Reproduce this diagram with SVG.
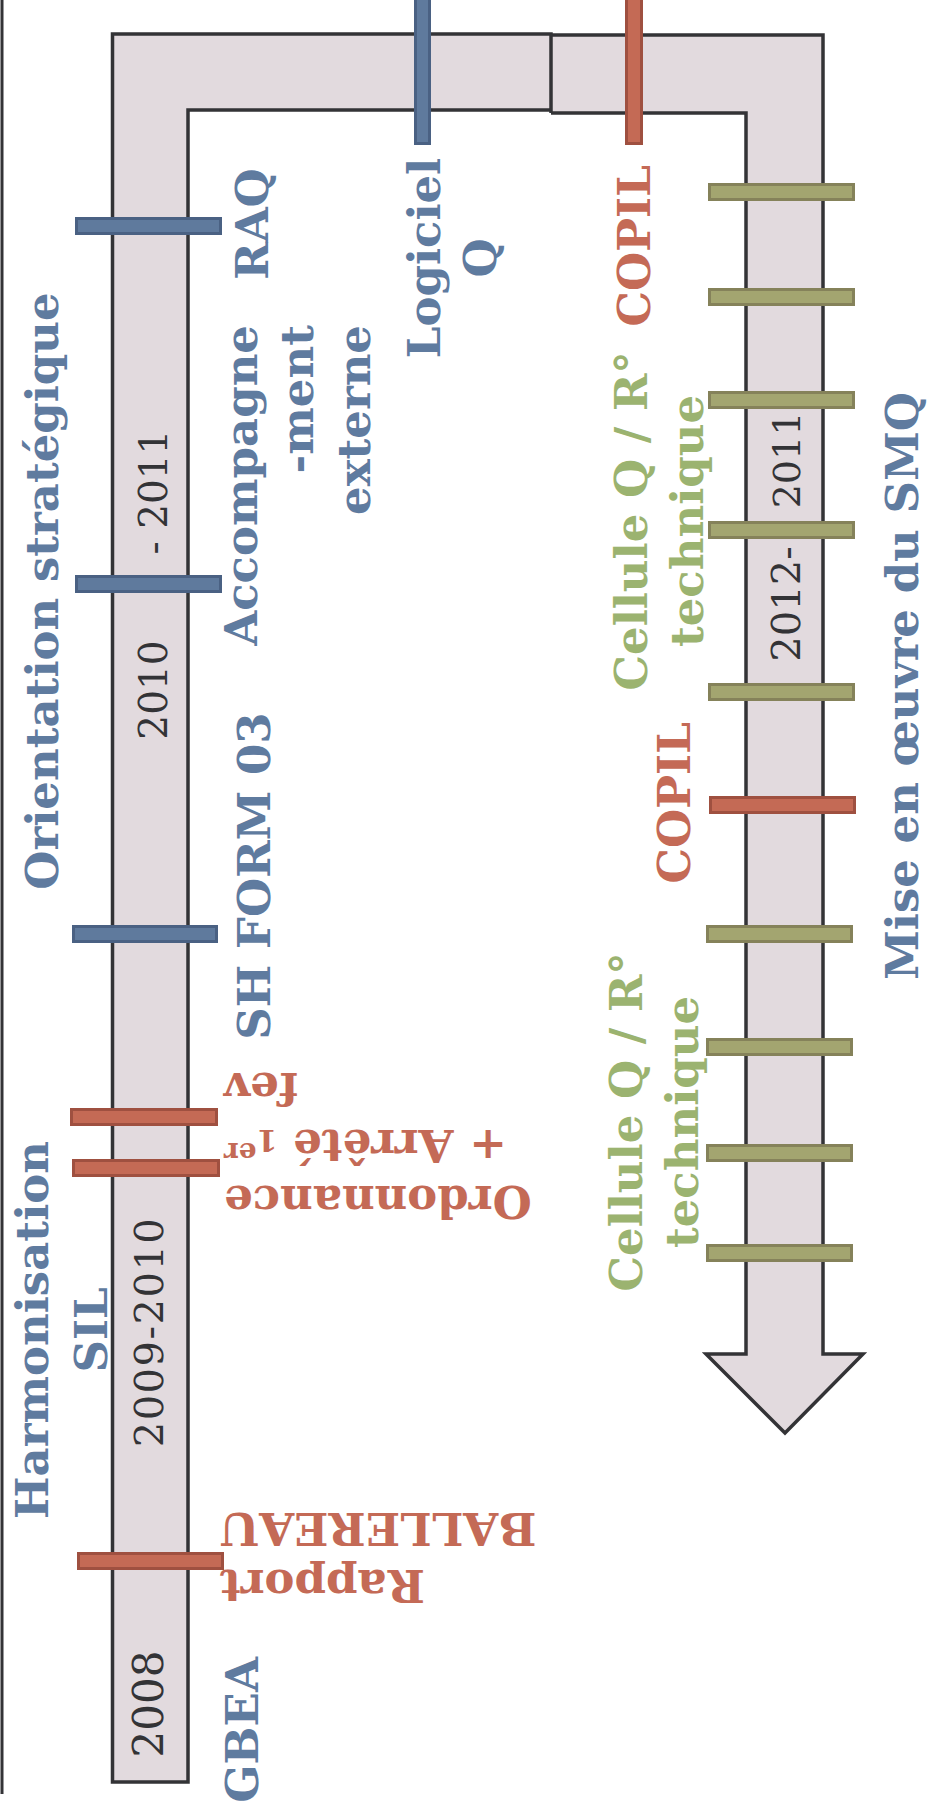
<svg xmlns="http://www.w3.org/2000/svg" width="927" height="1816" viewBox="0 0 927 1816">
<style>
.band{fill:#E2DADE;stroke:none}
.edge{fill:none;stroke:#333336;stroke-width:3.5;stroke-linejoin:miter}
.bb{fill:#5F7A9D;stroke:#4A6183;stroke-width:3}
.br{fill:#C46A55;stroke:#9F5040;stroke-width:3}
.bg{fill:#A3A570;stroke:#85825A;stroke-width:3}
.lab{font-family:"DejaVu Serif",serif;font-weight:bold;font-size:45px}
.blue{fill:#5F7B9F}
.red{fill:#C46A56}
.green{fill:#9BB370}
.yr{font-family:"DejaVu Serif",serif;font-size:39px;fill:#333336}
</style>
<line x1="2" y1="0" x2="2" y2="1794" stroke="#333336" stroke-width="3"/>
<g id="timeline">
  <path class="band" d="M112.5,34 H551 V110 H188 V1782 H112.5 Z"/>
  <path class="band" d="M551,35 H823 V1354 H863 L785,1433 L706,1354 H746 V113 H551 Z"/>
  <path class="edge" d="M551,110 H188 V1782 H112.5 V34 H551 V113"/>
  <path class="edge" d="M551,35 H823 V1354 H863 L785,1433 L706,1354 H746 V113 H551"/>
</g>
<g id="connectors">
  <rect class="bb" x="76.5" y="218.5" width="144" height="15"/>
  <rect class="bb" x="76.5" y="576.5" width="144" height="15"/>
  <rect class="bb" x="73.5" y="926.5" width="143" height="15"/>
  <rect class="br" x="71.5" y="1109.5" width="145" height="15"/>
  <rect class="br" x="73.5" y="1160.5" width="145" height="15"/>
  <rect class="br" x="78.5" y="1553.5" width="144" height="15"/>
  <rect class="bb" x="415.5" y="-5" width="14" height="148.5"/>
  <rect class="br" x="626.5" y="-5" width="15" height="148.5"/>
  <rect class="bg" x="709.5" y="184.5" width="144" height="15"/>
  <rect class="bg" x="709.5" y="289.5" width="144" height="15"/>
  <rect class="bg" x="709.5" y="392.5" width="144" height="15"/>
  <rect class="bg" x="709.5" y="522.5" width="144" height="15"/>
  <rect class="bg" x="709.5" y="684.5" width="144" height="15"/>
  <rect class="br" x="710.5" y="797.5" width="144" height="15"/>
  <rect class="bg" x="707.5" y="926.5" width="144" height="15"/>
  <rect class="bg" x="707.5" y="1039.5" width="144" height="15"/>
  <rect class="bg" x="707.5" y="1145.5" width="144" height="15"/>
  <rect class="bg" x="707.5" y="1245.5" width="144" height="15"/>
</g>
<g id="years" class="yr" text-anchor="middle">
  <text transform="translate(167,492) rotate(-90)">- 2011</text>
  <text transform="translate(167,690) rotate(-90)">2010</text>
  <text transform="translate(163,1332) rotate(-90)" font-size="40" letter-spacing="1.5">2009-2010</text>
  <text transform="translate(163,1704) rotate(-90)" font-size="42">2008</text>
  <text transform="translate(800,604) rotate(-90)" font-size="40">2012-</text>
  <text transform="translate(800,460) rotate(-90)" font-size="38">2011</text>
</g>
<g id="orientation" class="lab blue" text-anchor="middle">
  <text transform="translate(58,591) rotate(-90)">Orientation stratégique</text>
</g>
<g id="harmonisation" class="lab blue" text-anchor="middle">
  <text transform="translate(48,1330) rotate(-90)">Harmonisation</text>
  <text transform="translate(107,1330) rotate(-90)">SIL</text>
</g>
<g id="gbea" class="lab blue" text-anchor="middle">
  <text transform="translate(258,1730) rotate(-90)">GBEA</text>
</g>
<g id="raq" class="lab blue" text-anchor="middle">
  <text transform="translate(268,224) rotate(-90)">RAQ</text>
</g>
<g id="accompagnement" class="lab blue" text-anchor="end">
  <text transform="translate(257,325) rotate(-90)">Accompagne</text>
  <text transform="translate(313,325) rotate(-90)">-ment</text>
  <text transform="translate(370,325) rotate(-90)">externe</text>
</g>
<g id="shform" class="lab blue" text-anchor="middle">
  <text transform="translate(270,876) rotate(-90)">SH FORM 03</text>
</g>
<g id="logiciel" class="lab blue" text-anchor="middle">
  <text transform="translate(440,258) rotate(-90)">Logiciel</text>
  <text transform="translate(496,258) rotate(-90)">Q</text>
</g>
<g id="copil1" class="lab red" text-anchor="middle">
  <text transform="translate(650,246) rotate(-90)">COPIL</text>
</g>
<g id="copil2" class="lab red" text-anchor="middle">
  <text transform="translate(690,803) rotate(-90)">COPIL</text>
</g>
<g id="cellule1" class="lab green" text-anchor="middle">
  <text transform="translate(647,521) rotate(-90)">Cellule Q / R°</text>
  <text transform="translate(703,521) rotate(-90)">technique</text>
</g>
<g id="cellule2" class="lab green" text-anchor="middle">
  <text transform="translate(642,1122) rotate(-90)">Cellule Q / R°</text>
  <text transform="translate(698,1122) rotate(-90)">technique</text>
</g>
<g id="smq" class="lab blue" text-anchor="middle">
  <text transform="translate(918,686) rotate(-90)">Mise en œuvre du SMQ</text>
</g>
<g id="ordonnance" class="lab red" text-anchor="end">
  <text transform="translate(224,1186) rotate(180)">Ordonnance</text>
  <text transform="translate(224,1130) rotate(180)">+ Arrêté <tspan font-size="30">1</tspan><tspan font-size="28" dy="-13">er</tspan></text>
  <text transform="translate(224,1073) rotate(180)">fev</text>
</g>
<g id="rapport" class="lab red" text-anchor="end">
  <text transform="translate(220,1570) rotate(180)">Rapport</text>
  <text transform="translate(220,1513) rotate(180)">BALLEREAU</text>
</g>
</svg>
